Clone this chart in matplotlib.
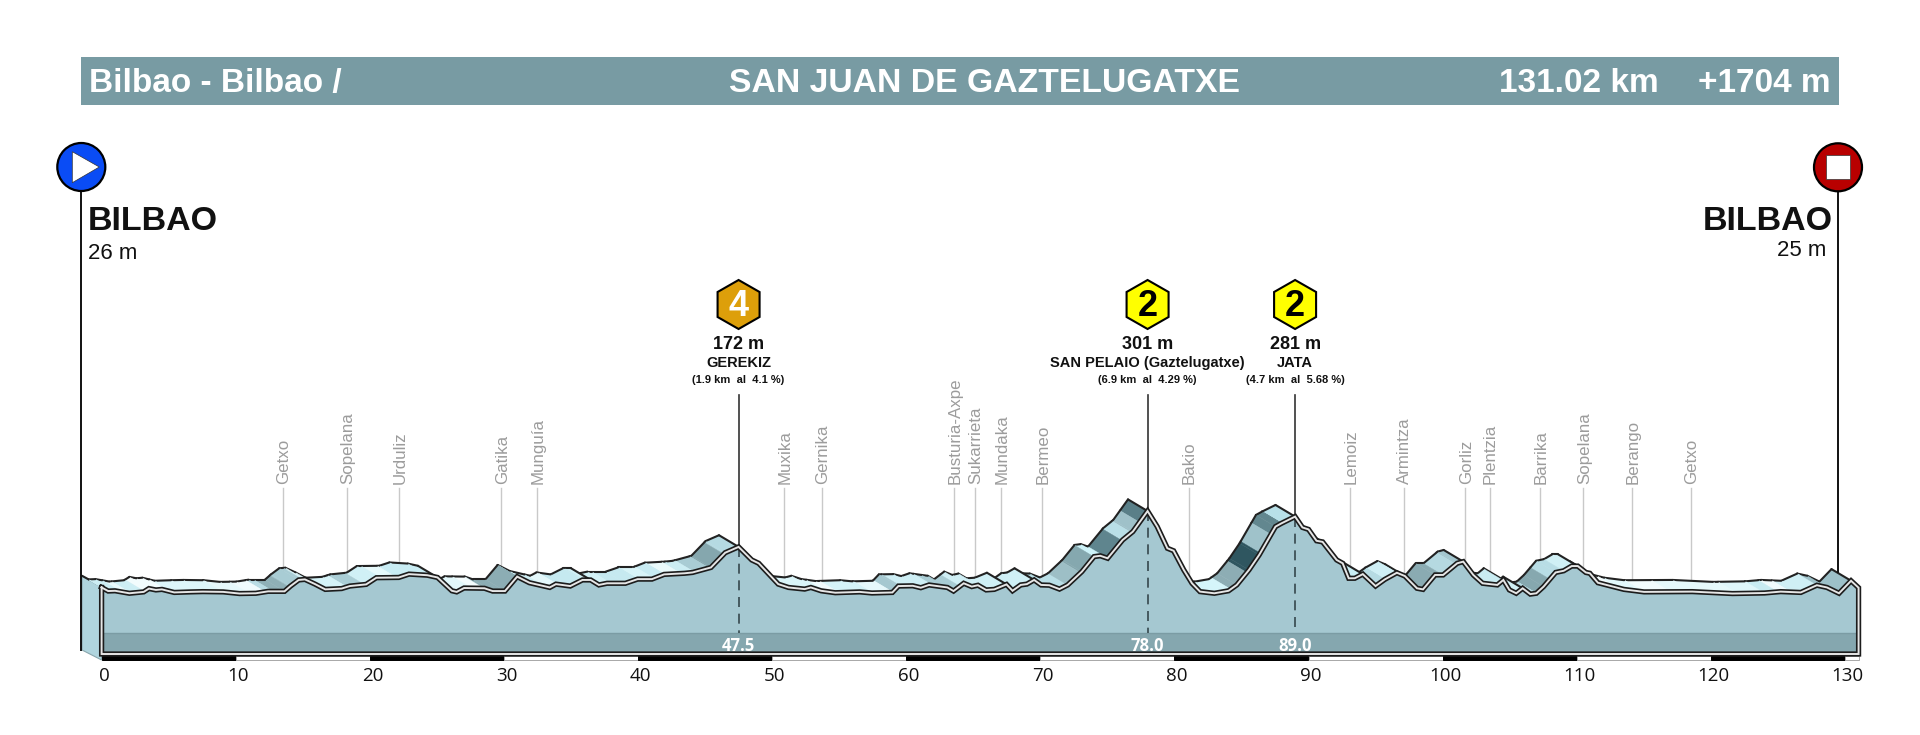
import numpy as np
import matplotlib
matplotlib.use("Agg")
import matplotlib.pyplot as plt
from matplotlib.patches import Circle, Polygon, Rectangle

plt.rcParams['font.family'] = ['Liberation Sans', 'DejaVu Sans']

# profile
km = [0, 0.49, 1.0, 2.07, 3.14, 3.53, 4.05, 4.5, 5.42, 6.64, 7.55, 9.07, 10.29, 11.5, 12.42, 13.64,
      14.09, 14.7, 15.16, 15.92, 16.68, 17.9, 18.51, 19.73, 20.49, 22.16, 22.92, 24.29, 25.05, 26.12,
      26.48, 27.03, 28.55, 29.16, 30.08, 30.99, 31.9, 33.42, 33.88, 34.95, 35.86, 36.47, 37.08, 37.69,
      39.06, 39.97, 41.04, 41.95, 43.47, 44.07, 45.44, 46.5, 47.5, 48.48, 49.0, 50.46, 51.22, 52.43,
      52.89, 53.65, 54.71, 56.53, 57.45, 58.97, 59.42, 60.49, 61.09, 61.7, 62.6, 63.07, 63.53, 64.29,
      64.89, 65.35, 65.96, 66.57, 67.48, 67.93, 68.54, 69.0, 69.54, 70.06, 70.67, 71.43, 72.04, 73.1,
      74.01, 74.47, 75.02, 76.14, 76.9, 78.0, 78.72, 79.48, 79.94, 80.7, 81.31, 81.91, 82.98, 84.04,
      84.65, 85.56, 86.32, 87.54, 87.99, 89.0, 89.55, 90.0, 90.6, 91.05, 92.1, 92.55, 93.0, 93.45,
      94.05, 95.0, 95.69, 96.59, 97.19, 98.09, 98.54, 99.44, 100.04, 101.09, 101.54, 102.29, 102.98,
      104.08, 104.53, 104.98, 105.49, 105.97, 106.54, 106.99, 107.53, 108.43, 109.03, 109.63, 110.08,
      110.68, 110.98, 111.58, 113.52, 115.02, 118.62, 121.62, 124.01, 125.21, 126.71, 127.91, 128.66,
      129.56, 130.46, 131.02]
elev = [26, 13, 14, 5, 10, 22, 17, 19, 8, 10, 11, 10, 4, 5, 12, 12,
        31, 53, 55, 38, 19, 22, 31, 37, 61, 62, 74, 70, 62, 14,
        10, 24, 23, 13, 13, 65, 43, 26, 38, 31, 53, 53, 35, 41,
        41, 56, 56, 73, 77, 80, 98, 151, 172, 125, 113, 38, 26, 20,
        26, 14, 7, 10, 6, 8, 31, 32, 25, 35, 29, 26, 13, 41,
        29, 34, 17, 19, 37, 14, 35, 38, 53, 35, 34, 20, 35, 83,
        137, 140, 131, 197, 227, 301, 245, 167, 158, 89, 41, 11, 5, 14,
        35, 89, 143, 245, 257, 281, 242, 235, 194, 190, 125, 113, 59, 59,
        74, 31, 55, 79, 67, 23, 19, 71, 71, 113, 119, 71, 41,
        35, 53, 17, 5, 23, 2, 5, 29, 80, 86, 103, 103,
        80, 77, 43, 19, 10, 11, 4, 6, 11, 8, 34, 26,
        5, 50, 25]

# colour blocks along the ribbon behind the profile
band_km = [0, 1.5, 2.2, 3.2, 5, 9, 11, 12.2, 12.8, 14.0, 15, 16.7, 18.3, 19.6, 20.8, 22, 26.1, 27.6, 28.5, 31,
           33, 34, 36, 38, 40, 41.2, 42, 43.2, 44.2, 45.3, 46.4, 47.5, 50, 54, 55, 57.5, 59, 59.6, 62, 64,
           70, 72, 73, 74, 75, 76.1, 76.8, 77.4, 78, 81.5, 84.2, 85.4, 86.4, 87.2, 88, 89, 93.4, 94.1, 95.7,
           98.5, 100, 101, 102, 104.5, 106.5, 107, 108, 109, 111.5, 113, 115, 117, 122, 124, 125, 126, 127.9]
band_colors = ['#cdeef4', '#e9fafc', '#cdeef4', '#f2fcfd', '#ddf6fa', '#e6f8fb', '#f0fbfd', '#b8dce4', '#8fb0b7',
               '#a8ccd4', '#d9f4f8', '#d5f3f8', '#a9cdd5', '#d0f0f6', '#e6f9fb', '#c8ecf3', '#e2f7fa', '#f3fcfd',
               '#8cadb4', '#cfeff5', '#e4f8fb', '#c5e9f0', '#d2f1f6', '#c6e9f0', '#d8f4f8', '#c8ebf2', '#eafafb',
               '#cbedf3', '#a9ccd4', '#85a7ae', '#b5dae2', '#d5f2f7', '#d9f4f8', '#f0fbfd', '#d5f3f8', '#e6f8fb',
               '#a5c8d0', '#cdeef4', '#a8ccd4', '#cfeff5', '#b9dfe7', '#9dbfc6', '#85a8af', '#ccf2f8', '#5f858e',
               '#b9dfe7', '#9fc1c9', '#5a7f88', '#cfeff5', '#d5f5fa', '#8dadb4', '#2f5660', '#9fc2ca', '#62878f',
               '#b8e0e8', '#cfeff5', '#c9eef4', '#b6dbe3', '#cfeff5', '#8aabb2', '#b5d9e1', '#a4c7cf', '#c9ecf2',
               '#d0f0f5', '#b5dae2', '#86a8af', '#b8dde5', '#d0f0f5', '#f4fcfd', '#e3f8fb', '#f2fcfd', '#e6f9fb',
               '#dff6fa', '#c8ebf2', '#f0fbfd', '#cfeff5', '#9dc0c8']

town_names = ['Getxo', 'Sopelana', 'Urduliz', 'Gatika', 'Munguía', 'Muxika', 'Gernika', 'Busturia-Axpe',
              'Sukarrieta', 'Mundaka', 'Bermeo', 'Bakio', 'Lemoiz', 'Armintza', 'Gorliz', 'Plentzia',
              'Barrika', 'Sopelana', 'Berango', 'Getxo']
town_km = [13.5, 18.3, 22.2, 29.8, 32.5, 50.9, 53.7, 63.6, 65.1, 67.1, 70.1, 81.06, 93.1, 97.1, 101.7,
           103.5, 107.3, 110.5, 114.1, 118.5]

climb_km = [47.5, 78.0, 89.0]
climb_elev = [172, 301, 281]
climb_cat = ['4', '2', '2']
climb_names = ['GEREKIZ', 'SAN PELAIO (Gaztelugatxe)', 'JATA']
climb_info = ['(1.9 km  al  4.1 %)', '(6.9 km  al  4.29 %)', '(4.7 km  al  5.68 %)']
climb_kmtext = ['47.5', '78.0', '89.0']

tick_km = list(range(0, 131, 10))

km = np.array(km, dtype=float)
elev = np.array(elev, dtype=float)

fig = plt.figure(figsize=(19.2, 7.35), dpi=100, facecolor='white')

# pixel overlay for banner, pins, labels
pax = fig.add_axes([0, 0, 1, 1], zorder=3)
pax.set_xlim(0, 1920)
pax.set_ylim(735, 0)
pax.axis('off')
pax.patch.set_alpha(0)

# km / metres axes laid so 0 km sits at x=101.6px
ax = fig.add_axes([0, 0, 1, 1], zorder=2)
PX_KM = 13.41
PX_M = 1 / 3.6
Y0 = 594.67
ax.set_xlim(-101.6 / PX_KM, (1920 - 101.6) / PX_KM)
ax.set_ylim((Y0 - 735) / PX_M, Y0 / PX_M)
ax.axis('off')
ax.patch.set_alpha(0)


def m_at(py):
    return (Y0 - py) / PX_M


DX = 1.46   # depth of the ribbon, km
DY = 42.0   # depth of the ribbon, m
end_km = km[-1]
floor = m_at(654)

# side face on the left
ax.add_patch(Polygon([(0, elev[0]), (-DX, elev[0] + DY), (-DX, m_at(650)), (0, m_at(660))],
                     closed=True, facecolor='#b0d5de', edgecolor='#8aa7ae', lw=0.8, zorder=1.5))

# town lines, stay behind the ribbon
for t in town_km:
    ax.plot([t, t], [m_at(488), 0], color='#c9c9c9', lw=1.0, zorder=1)

# ribbon, from high km to low so the nearer hill covers the later one
xs = np.unique(np.concatenate([km, band_km]))
ys = np.interp(xs, km, elev)
n = len(xs) - 1
for i in range(n - 1, -1, -1):
    x0, x1 = xs[i], xs[i + 1]
    y0, y1 = ys[i], ys[i + 1]
    slope = (y1 - y0) / (x1 - x0)
    if slope < -DY / DX:
        continue
    z = 2 + (n - i) * 0.001
    c = band_colors[np.searchsorted(band_km, x0, side='right') - 1]
    ax.fill([x0, x1, x1 - DX, x0 - DX], [y0, y1, y1 + DY, y0 + DY], facecolor=c, edgecolor=c, lw=0.3, zorder=z)
    ax.plot([x0 - DX, x1 - DX], [y0 + DY, y1 + DY], color='#222222', lw=1.5, zorder=z, solid_capstyle='round')
    # silhouette edge where the surface turns away
    if i < n - 1:
        next_slope = (ys[i + 2] - y1) / (xs[i + 2] - x1)
        if next_slope < -DY / DX:
            ax.plot([x1, x1 - DX], [y1, y1 + DY], color='#222222', lw=1.5, zorder=z, solid_capstyle='round')
    else:
        ax.plot([x1, x1 - DX], [y1, y1 + DY], color='#222222', lw=1.5, zorder=z, solid_capstyle='round')

# front face
ax.fill_between(km, floor, elev, color='#a5c8d1', lw=0, zorder=3)
ax.fill_between([0, end_km], floor, m_at(633), color='#85a7af', lw=0, zorder=3.1)
ax.plot([0, end_km], [m_at(633), m_at(633)], color='#7b9ca4', lw=1, zorder=3.2)

# dashed drop lines and km values in the strip
for c_km, c_el, c_txt in zip(climb_km, climb_elev, climb_kmtext):
    ax.plot([c_km, c_km], [c_el, m_at(633)], color='#35474c', lw=1.2, dashes=(6, 4), zorder=3.3)
    ax.plot([c_km, c_km], [c_el, m_at(395)], color='#333333', lw=1.2, zorder=3.3)
    ax.text(c_km, m_at(646), c_txt, ha='center', va='center', color='white', fontsize=12,
            family='Open Sans', weight='bold', zorder=7)

# double outline
fx = np.concatenate([km, [end_km, 0, 0]])
fy = np.concatenate([elev, [floor, floor, elev[0]]])
ax.plot(fx, fy, color='#1c1c1c', lw=3.8, zorder=6, solid_joinstyle='miter')
ax.plot(fx, fy, color='#e6e6e6', lw=1.4, zorder=6.1, solid_joinstyle='miter')

# km scale
for t in tick_km:
    w = min(10, end_km - t)
    black = (t // 10) % 2 == 0
    ax.bar(t, m_at(660) - m_at(656), width=w, bottom=m_at(656), align='edge',
           color='black' if black else 'white', edgecolor='black' if black else '#a8a8a8', lw=0.7, zorder=4)
    ax.text(t + 0.2, m_at(676), str(t), ha='center', va='center', fontsize=13.5, family='Open Sans', color='#111111')

# banner
pax.add_patch(Rectangle((81, 56.5), 1758, 48, facecolor='#789ba3', edgecolor='none'))
pax.text(89, 83, 'Bilbao - Bilbao /', color='white', fontsize=24, weight='bold', ha='left', va='center')
pax.text(984.5, 83, 'SAN JUAN DE GAZTELUGATXE', color='white', fontsize=24.3, weight='bold', ha='center', va='center')
pax.text(1659, 83, '131.02 km', color='white', fontsize=24, weight='bold', ha='right', va='center')
pax.text(1831, 83, '+1704 m', color='white', fontsize=24, weight='bold', ha='right', va='center')

# start pin
pax.plot([81, 81], [188, 650], color='#111111', lw=1.4, zorder=1)
pax.add_patch(Circle((81.3, 167), 24, facecolor='#0a4cf5', edgecolor='black', lw=1.6, zorder=2))
pax.add_patch(Polygon([(72.3, 151.7), (72.3, 182.7), (99.3, 167)], closed=True, facecolor='white',
                      edgecolor='#333333', lw=0.5, zorder=3))
pax.text(88, 221.5, 'BILBAO', fontsize=24.5, weight='bold', color='#111111', ha='left', va='center')
pax.text(88, 253, '26 m', fontsize=16, color='#111111', ha='left', va='center')

# finish pin
pax.plot([1838, 1838], [188, 572], color='#111111', lw=1.4, zorder=1)
pax.add_patch(Circle((1838, 167.3), 24, facecolor='#b80000', edgecolor='black', lw=1.6, zorder=2))
pax.add_patch(Rectangle((1826, 155.3), 24, 24, facecolor='white', edgecolor='#333333', lw=0.5, zorder=3))
pax.text(1833, 221.5, 'BILBAO', fontsize=24.5, weight='bold', color='#111111', ha='right', va='center')
pax.text(1826, 250.5, '25 m', fontsize=16, color='#111111', ha='right', va='center')

# climbs
for c_km, c_el, cat, name, info in zip(climb_km, climb_elev, climb_cat, climb_names, climb_info):
    cx = 101.6 + c_km * PX_KM
    hx = [cx, cx + 21, cx + 21, cx, cx - 21, cx - 21]
    hy = [280, 292, 317, 329, 317, 292]
    fc = '#dd9f0a' if cat == '4' else '#ffff00'
    tc = 'white' if cat == '4' else 'black'
    pax.add_patch(Polygon(list(zip(hx, hy)), closed=True, facecolor=fc, edgecolor='black', lw=1.5))
    pax.text(cx, 306, cat, color=tc, fontsize=26, weight='bold', ha='center', va='center')
    pax.text(cx, 344, f'{c_el} m', fontsize=13, weight='bold', color='#111111', ha='center', va='center')
    pax.text(cx, 363, name, fontsize=10.5, weight='bold', color='#111111', ha='center', va='center')
    pax.text(cx, 380, info, fontsize=8, weight='bold', color='#111111', ha='center', va='center')

# towns
for name, t in zip(town_names, town_km):
    pax.text(102.6 + t * PX_KM, 484, name, rotation=90, fontsize=12.2, color='#9c9c9c', ha='center', va='bottom')

fig.savefig('out.png', dpi=100, facecolor='white')
